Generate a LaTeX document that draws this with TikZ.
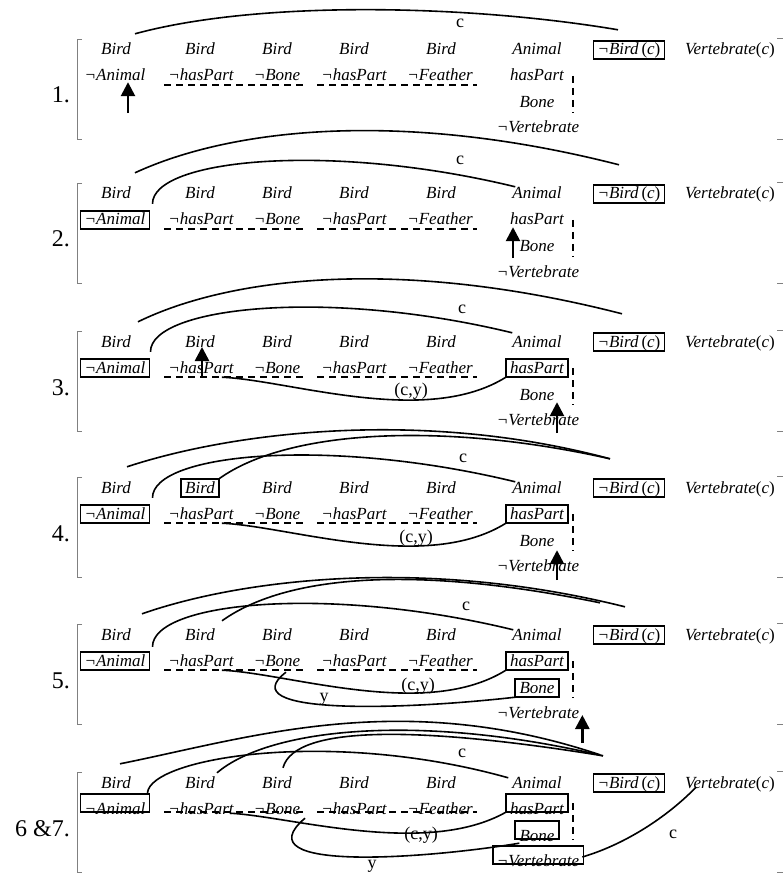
\documentclass[tikz,border=0pt]{standalone}
\usepackage{fontspec}
\setmainfont{Liberation Serif}
\usetikzlibrary{arrows.meta}
\tikzset{
  term/.style={font=\fontsize{17}{20}\selectfont\itshape, anchor=base, inner xsep=4pt, inner ysep=2pt, text height=12pt, text depth=2pt},
  box/.style={line width=1.7pt, draw=black},
  link/.style={line width=1.6pt, draw=black},
  blocked/.style={line width=1.8pt, draw=black, dash pattern=on 7pt off 5pt},
  pointer/.style={line width=2.6pt, draw=black, -{Triangle[width=14pt,length=14pt]}},
  lbl/.style={font=\fontsize{18}{20}\selectfont, anchor=base, inner sep=0pt},
  num/.style={font=\fontsize{24}{26}\selectfont, anchor=base east, inner sep=0pt},
  brk/.style={line width=0.6pt, draw=gray},
}
\begin{document}
\begin{tikzpicture}[x=1pt, y=-1pt]
  \useasboundingbox (0,0) rectangle (783,874);
  % Terme je Schritt
  \foreach \p/\off/\lift/\num in {1/0/0pt/1., 2/144/0pt/2., 3/292/0pt/3., 4/438/0pt/4., 5/585/0pt/5., 6/733/6pt/6 \&7.}{
    \node[num] (num-\p) at (70,{\off+103}) {\num};
    \draw[brk] (82,{\off+39}) -- (77,{\off+39}) -- (77,{\off+139}) -- (82,{\off+139});
    \draw[brk] (777,{\off+38}) -- (783,{\off+38});
    \draw[brk] (777,{\off+139}) -- (783,{\off+139});
    \foreach \x [count=\i] in {116,200,277,354,441}
      \node[term] (bird\i-\p) at (\x,{\off+55}) {Bird};
    \node[term] (animal-\p) at (537,{\off+55}) {Animal};
    \node[term] (nbird-\p) at (629,{\off+55}) {¬Bird\,{\upshape(}c{\upshape)}};
    \node[term] (vert-\p) at (730,{\off+55}) {Vertebrate{\upshape(}c{\upshape)}};
    \node[term] (nanimal-\p) at (115,{\off+81}) {¬Animal};
    \node[term] (nhaspart1-\p) at (201,{\off+81}) {¬hasPart};
    \node[term] (nbone-\p) at (277,{\off+81}) {¬Bone};
    \node[term] (nhaspart2-\p) at (354,{\off+81}) {¬hasPart};
    \node[term] (nfeather-\p) at (440,{\off+81}) {¬Feather};
    \node[term] (haspart-\p) at (537,{\off+81}) {hasPart};
    \node[term] (bone-\p) at (537,{\off+108}) {Bone};
    \node[term] (nvert-\p) at (538,{\off+133}) {¬Vertebrate};
    % blockierte Pfade
    \draw[blocked] ([yshift=\lift]nhaspart1-\p.south west) -- ([yshift=\lift]nbone-\p.south east);
    \draw[blocked] ([yshift=\lift]nhaspart2-\p.south west) -- ([yshift=\lift]nfeather-\p.south east);
    \draw[blocked] ([xshift=5pt,yshift=\lift]haspart-\p.east) -- ([xshift=5pt,yshift=\lift]haspart-\p.east |- bone-\p.south);
  }
  % Rahmen
  \foreach \n in {nbird-1,nbird-2,nanimal-2,nbird-3,nanimal-3,haspart-3,nbird-4,nanimal-4,bird2-4,haspart-4,nbird-5,nanimal-5,haspart-5,bone-5,nbird-6}
    \draw[box] (\n.south west) rectangle (\n.north east);
  \foreach \n in {nanimal-6,haspart-6,bone-6,nvert-6}
    \draw[box] ([yshift=6pt]\n.south west) rectangle ([yshift=6pt]\n.north east);

  % Schritt 1
  \draw[link] ([shift={(0,-7)}]bird1-1.north east) .. controls +(125,-34) and +(-148,-25) .. ([shift={(-11,-11)}]nbird-1.north);
  \node[lbl] (c-1) at (460,28) {c};
  \draw[pointer] ([shift={(13,28)}]nanimal-1.south) -- ([shift={(13,-3)}]nanimal-1.south);
  % Schritt 2
  \draw[link] ([shift={(0,-12)}]bird1-2.north east) .. controls +(95,-44) and +(-219,-56) .. ([shift={(-10,-20)}]nbird-2.north);
  \draw[link] ([shift={(3,-7)}]nanimal-2.north east) .. controls +(0,-45) and +(-185,-45) .. ([shift={(7,2)}]animal-2.north west);
  \node[lbl] (c-2) at (460,165) {c};
  \draw[pointer] ([shift={(-24,29)}]haspart-2.south) -- ([shift={(-24,-2)}]haspart-2.south);
  % Schritt 3
  \draw[link] ([shift={(3,-11)}]bird1-3.north east) .. controls +(92,-45) and +(-222,-57) .. ([shift={(-7,-19)}]nbird-3.north);
  \draw[link] ([shift={(1,-7)}]nanimal-3.north east) .. controls +(0,-45) and +(-185,-45) .. ([shift={(4,0)}]animal-3.north west);
  \node[lbl] (c-3) at (462,313) {c};
  \draw[link] ([xshift=-16pt]nhaspart1-3.south east) .. controls +(68,3) and +(-80,50) .. (haspart-3.south west);
  \node[lbl] (cy-3) at (411,395) {(c,y)};
  \draw[pointer] ([shift={(2,30)}]bird2-3.base) -- ([xshift=2pt]bird2-3.base);
  \draw[pointer] ([shift={(20,29)}]bone-3.south) -- ([shift={(20,-2)}]bone-3.south);
  % Schritt 4
  \draw[link] ([shift={(-8,-12)}]bird1-4.north east) .. controls +(103,-34) and +(-190,-51) .. ([shift={(-19,-20)}]nbird-4.north);
  \draw[link] (bird2-4.north east) .. controls +(71,-51) and +(-160,-36) .. ([shift={(-19,-20)}]nbird-4.north);
  \draw[link] ([shift={(3,-7)}]nanimal-4.north east) .. controls +(0,-45) and +(-185,-45) .. ([shift={(7,3)}]animal-4.north west);
  \node[lbl] (c-4) at (463,462) {c};
  \draw[link] ([xshift=-16pt]nhaspart1-4.south east) .. controls +(68,3) and +(-80,50) .. (haspart-4.south west);
  \node[lbl] (cy-4) at (416,542) {(c,y)};
  \draw[pointer] ([shift={(20,30)}]bone-4.south) -- ([xshift=20pt]bone-4.south);
  % Schritt 5
  \draw[link] ([shift={(7,-12)}]bird1-5.north east) .. controls +(100,-35) and +(-200,-50) .. ([shift={(-4,-19)}]nbird-5.north);
  \draw[link] ([shift={(3,-5)}]bird2-5.north east) .. controls +(70,-50) and +(-170,-35) .. ([shift={(-29,-23)}]nbird-5.north);
  \draw[link] ([shift={(3,-5)}]nanimal-5.north east) .. controls +(0,-45) and +(-185,-45) .. ([shift={(5,4)}]animal-5.north west);
  \node[lbl] (c-5) at (466,610) {c};
  \draw[link] ([xshift=-16pt]nhaspart1-5.south east) .. controls +(68,3) and +(-80,50) .. (haspart-5.south west);
  \node[lbl] (cy-5) at (418,690) {(c,y)};
  \draw[link] ([shift={(9,2)}]nbone-5.south) .. controls +(-56,43) and +(-115,13) .. (bone-5.south west);
  \node[lbl] (y-5) at (324,701) {y};
  \draw[pointer] ([shift={(-1,30)}]nvert-5.east) -- ([shift={(-1,2)}]nvert-5.east);
  % Schritt 6 und 7
  \draw[link] ([shift={(-15,-10)}]bird1-6.north east) .. controls +(130,-26) and +(-200,-67) .. ([shift={(-29,-19)}]nbird-6.north);
  \draw[link] ([shift={(-2,-1)}]bird2-6.north east) .. controls +(53,-45) and +(-183,-43) .. ([shift={(-26,-18)}]nbird-6.north);
  \draw[link] ([shift={(-13,-6)}]bird3-6.north east) .. controls +(12,-45) and +(-173,-28) .. ([shift={(-26,-18)}]nbird-6.north);
  \draw[link] ([shift={(-2,-7)}]nanimal-6.north east) .. controls +(3,-35) and +(-178,-50) .. ([shift={(0,4)}]animal-6.north west);
  \node[lbl] (c-6) at (462,757) {c};
  \draw[link] ([shift={(-8,-5)}]nhaspart1-6.south east) .. controls +(60,3) and +(-80,45) .. ([yshift=6pt]haspart-6.south west);
  \node[lbl] (cy-6) at (421,839) {(c,y)};
  \draw[link] ([xshift=28pt]nbone-6.south) .. controls +(-65,55) and +(-90,15) .. ([shift={(4,-2)}]bone-6.south west);
  \node[lbl] (y-6) at (372,868) {y};
  \draw[link] ([shift={(-1,-4)}]nvert-6.east) .. controls +(47,-14) and +(-25,26) .. ([shift={(15,-5)}]vert-6.south west);
  \node[lbl] (c-7) at (673,838) {c};
\end{tikzpicture}
\end{document}
